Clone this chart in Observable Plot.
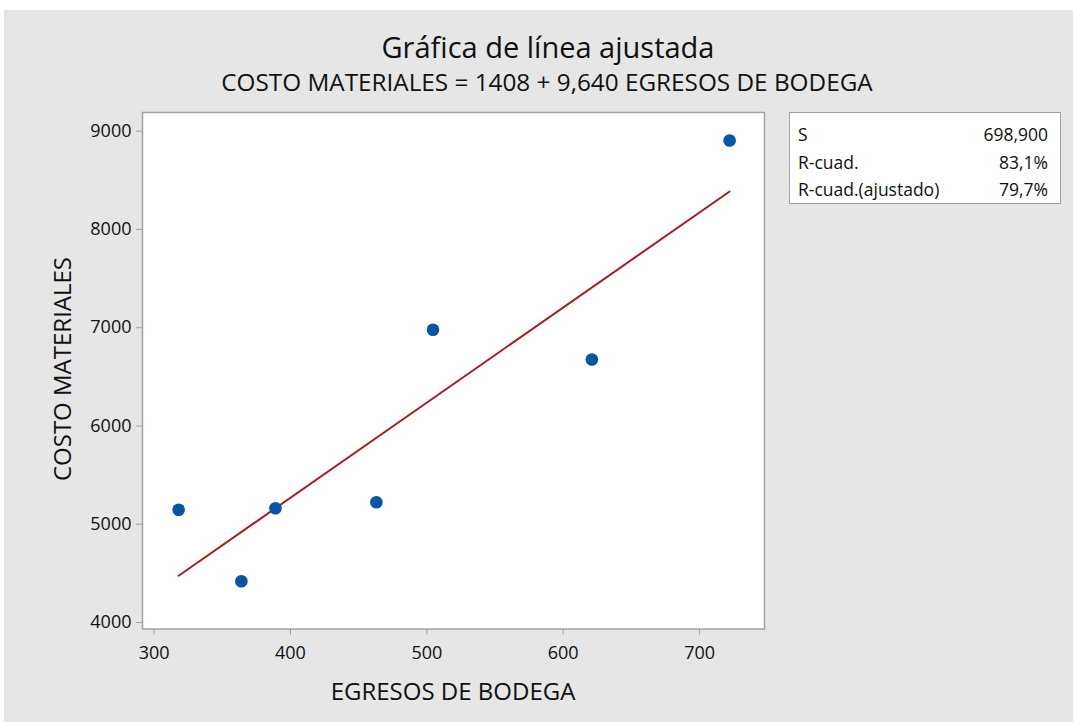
<!DOCTYPE html>
<html><head><meta charset="utf-8">
<script src="https://cdn.jsdelivr.net/npm/d3@7"></script>
<script src="https://cdn.jsdelivr.net/npm/@observablehq/plot@0.6"></script>
<style>
html,body{margin:0;padding:0;background:#fff;}
#page{position:relative;width:1073px;height:722px;overflow:hidden;background:#fff;font-family:"Open Sans",sans-serif;color:#111;}
#bg{position:absolute;left:4px;top:10px;right:0;bottom:0;background:#e6e6e6;}
.t{position:absolute;white-space:nowrap;line-height:1;}
#title{left:0;width:1096px;top:32px;text-align:center;font-size:29px;}
#subtitle{left:0;width:1094px;top:70px;text-align:center;font-size:24.3px;}
#xtitle{left:303px;width:300px;top:679px;text-align:center;font-size:24px;}
#ytitle{left:-88px;width:300px;top:357px;text-align:center;font-size:24px;transform:rotate(-90deg);}
#chart{position:absolute;left:0;top:100px;}
#stats{position:absolute;left:789px;top:112px;width:270px;height:90px;background:#fff;border:1.5px solid #a0a0a0;}
.sl{position:absolute;left:798px;font-size:17.5px;}
.sv{position:absolute;right:25px;font-size:17.5px;text-align:right;}
</style>
</head><body>
<div id="page">
  <div id="bg"></div>
  <div class="t" id="title">Gráfica de línea ajustada</div>
  <div class="t" id="subtitle">COSTO MATERIALES = 1408 + 9,640 EGRESOS DE BODEGA</div>
  <div id="chart"></div>
  <div class="t" id="xtitle">EGRESOS DE BODEGA</div>
  <div class="t" id="ytitle">COSTO MATERIALES</div>
  <div id="stats"></div>
</div>
<script>
// Data
const egresos = [318, 364, 389, 463, 504.5, 621, 722];
const costo   = [5147, 4420, 5163, 5224, 6979, 6677, 8905];
const xTicks = [300, 400, 500, 600, 700];
const yTicks = [4000, 5000, 6000, 7000, 8000, 9000];
const statLabels = ["S", "R-cuad.", "R-cuad.(ajustado)"];
const statValues = ["698,900", "83,1%", "79,7%"];

const points = egresos.map((x, i) => ({x, y: costo[i]}));

const plot = Plot.plot({
  width: 780,
  height: 622,
  marginLeft: 142,
  marginRight: 16,
  marginTop: 12,
  marginBottom: 93.5,
  style: {fontFamily: "Open Sans, sans-serif", background: "transparent", color: "#111"},
  x: {domain: [291.5, 747.6]},
  y: {domain: [3934, 9190]},
  marks: [
    Plot.frame({fill: "white", stroke: null}),
    Plot.linearRegressionY(points, {x: "x", y: "y", ci: 0, stroke: "#a31f22", strokeWidth: 2}),
    Plot.dot(points, {x: "x", y: "y", r: 6.3, fill: "#0455a6", stroke: null}),
    Plot.frame({stroke: "#a3a3a3", strokeWidth: 1.5}),
    Plot.axisX({ticks: xTicks, tickSize: 6, tickPadding: 11, fontSize: 18, stroke: "#a3a3a3", fill: "#111", label: null, tickFormat: d => String(d)}),
    Plot.axisY({ticks: yTicks, tickSize: 6, tickPadding: 5, fontSize: 18, stroke: "#a3a3a3", fill: "#111", label: null, tickFormat: d => String(d)})
  ]
});
document.getElementById("chart").appendChild(plot);

const page = document.getElementById("page");
const baselines = [141, 169, 196];
statLabels.forEach((lab, i) => {
  const a = document.createElement("div");
  a.className = "t sl"; a.textContent = lab; a.style.top = (baselines[i] - 15.5) + "px";
  page.appendChild(a);
  const b = document.createElement("div");
  b.className = "t sv"; b.textContent = statValues[i]; b.style.top = (baselines[i] - 15.5) + "px";
  page.appendChild(b);
});
</script>
</body></html>
